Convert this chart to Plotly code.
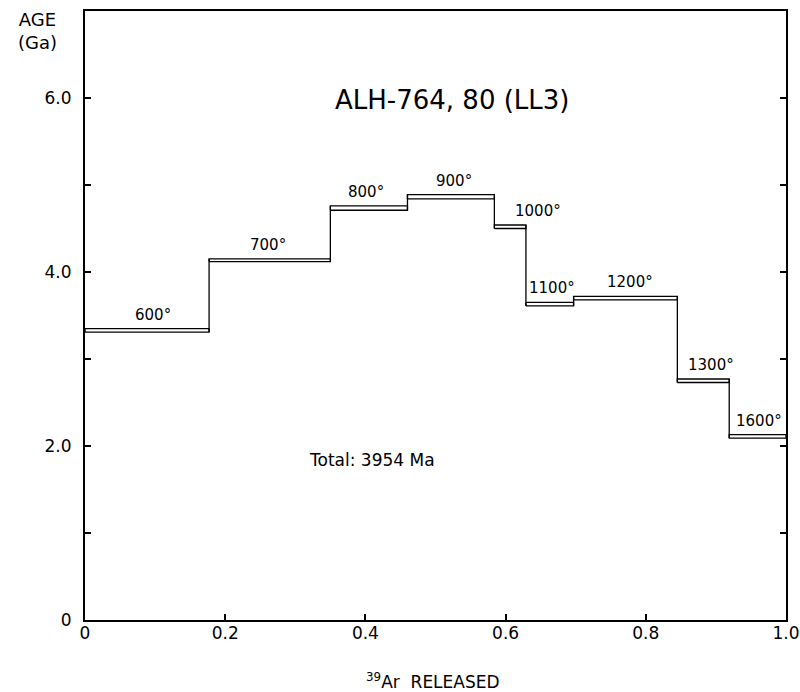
import plotly.graph_objects as go

# Step-heating data
temps = ["600°", "700°", "800°", "900°", "1000°", "1100°", "1200°", "1300°", "1600°"]
x_edges = [0.0, 0.177, 0.350, 0.460, 0.584, 0.629, 0.697, 0.845, 0.919, 1.0]
age_hi = [3.35, 4.15, 4.76, 4.89, 4.54, 3.65, 3.72, 2.77, 2.13]
age_lo = [3.31, 4.12, 4.71, 4.84, 4.50, 3.61, 3.68, 2.73, 2.09]
label_xshift = [6, -2, -3, 3, 28, 2, 5, 8, 1]

y_tickvals = [0, 1, 2, 3, 4, 5, 6]
y_ticktext = ["0", "", "2.0", "", "4.0", "", "6.0"]
x_tickvals = [0, 0.2, 0.4, 0.6, 0.8, 1.0]
x_ticktext = ["0", "0.2", "0.4", "0.6", "0.8", "1.0"]

FONT = "DejaVu Sans, sans-serif"

xs, ys = [], []
n = len(temps)
for i in range(n):
    a, b = x_edges[i], x_edges[i + 1]
    lo, hi = age_lo[i], age_hi[i]
    xs += [a, b, b, a, a, None]
    ys += [lo, lo, hi, hi, lo, None]
    if i < n - 1:
        nlo, nhi = age_lo[i + 1], age_hi[i + 1]
        xs += [b, b, None]
        ys += [min(lo, nlo), max(hi, nhi), None]

fig = go.Figure()
fig.add_trace(go.Scatter(x=xs, y=ys, mode="lines",
                         line=dict(color="black", width=1.3),
                         hoverinfo="skip", showlegend=False))

for i, t in enumerate(temps):
    fig.add_annotation(x=(x_edges[i] + x_edges[i + 1]) / 2, y=age_hi[i],
                       text=t, showarrow=False, yshift=14, xshift=label_xshift[i],
                       yanchor="middle", xanchor="center",
                       font=dict(family=FONT, size=15, color="black"))

fig.add_annotation(x=0.524, y=0.854, xref="paper", yref="paper",
                   text="ALH-764, 80 (LL3)", showarrow=False,
                   xanchor="center", yanchor="middle",
                   font=dict(family=FONT, size=26, color="black"))
fig.add_annotation(x=0.409, y=0.263, xref="paper", yref="paper",
                   text="Total: 3954 Ma", showarrow=False,
                   xanchor="center", yanchor="middle",
                   font=dict(family=FONT, size=17, color="black"))
fig.add_annotation(x=-0.068, y=1.007, xref="paper", yref="paper",
                   text="AGE<br>(Ga)", showarrow=False, align="center",
                   xanchor="center", yanchor="top",
                   font=dict(family=FONT, size=18, color="black"))
fig.add_annotation(x=0.496, y=-0.1, xref="paper", yref="paper",
                   text="<sup>39</sup>Ar  RELEASED", showarrow=False,
                   xanchor="center", yanchor="middle",
                   font=dict(family=FONT, size=17, color="black"))

fig.update_xaxes(range=[0, 1], tickvals=x_tickvals, ticktext=x_ticktext,
                 ticks="inside", ticklen=6, tickwidth=1.5, tickcolor="black",
                 showline=True, linecolor="black", linewidth=2, mirror=True,
                 showgrid=False, zeroline=False, automargin=False,
                 ticklabelstandoff=-3,
                 tickfont=dict(family=FONT, size=17, color="black"))
fig.update_yaxes(range=[0, 7], tickvals=y_tickvals, ticktext=y_ticktext,
                 ticks="inside", ticklen=6, tickwidth=1.5, tickcolor="black",
                 showline=True, linecolor="black", linewidth=2, mirror="ticks",
                 showgrid=False, zeroline=False, automargin=False,
                 ticklabelstandoff=8,
                 tickfont=dict(family=FONT, size=17, color="black"))

fig.update_layout(width=800, height=692,
                  margin=dict(l=85, r=14, t=11, b=72),
                  paper_bgcolor="white", plot_bgcolor="white")

fig.write_html("out.html", config={"displayModeBar": False},
               post_script="document.body.style.margin='0';")
